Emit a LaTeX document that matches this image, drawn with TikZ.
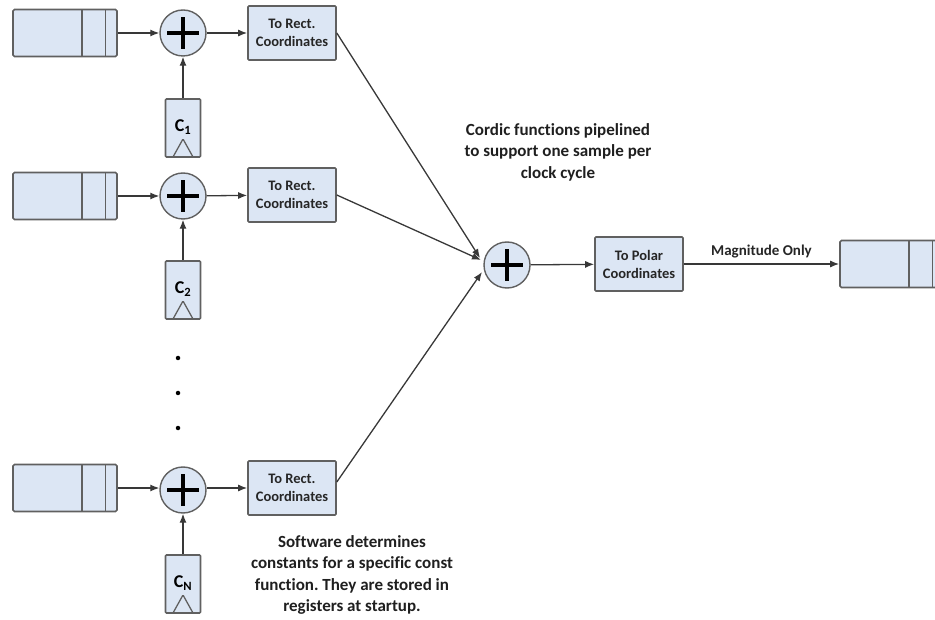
\documentclass[tikz,border=0pt]{standalone}
\usepackage{fontspec}
\setmainfont[Ligatures=NoCommon]{Carlito}
\usetikzlibrary{arrows.meta,calc}
\frenchspacing

\definecolor{boxfill}{HTML}{DCE6F4}
\definecolor{boxline}{HTML}{606060}
\definecolor{wire}{HTML}{383838}

\tikzset{
  x=1pt, y=-1pt,
  buffer/.style={draw=boxline, fill=boxfill, line width=1.6pt, rounded corners=1.5pt,
    minimum width=104pt, minimum height=47pt, inner sep=0pt,
    path picture={
      \draw[boxline, line width=1.6pt]
        ([xshift=-35pt]path picture bounding box.north east) -- ([xshift=-35pt]path picture bounding box.south east)
        ([xshift=-11.5pt]path picture bounding box.north east) -- ([xshift=-11.5pt]path picture bounding box.south east);
    }},
  adder/.style={circle, draw=boxline, fill=boxfill, line width=1.4pt,
    minimum size=46pt, inner sep=0pt,
    path picture={
      \draw[black, line width=4.5pt]
        ([xshift=-16pt]path picture bounding box.center) -- ([xshift=16pt]path picture bounding box.center)
        ([yshift=-16pt]path picture bounding box.center) -- ([yshift=16pt]path picture bounding box.center);
    }},
  convbox/.style={draw=boxline, fill=boxfill, line width=1.6pt, rounded corners=1pt,
    minimum width=88pt, minimum height=54pt, inner sep=1pt, align=center,
    font=\fontsize{14.5}{18}\selectfont\bfseries, text=black!85},
  register/.style={draw=boxline, fill=boxfill, line width=1.6pt, rounded corners=1pt,
    minimum width=35pt, minimum height=58pt, inner sep=0pt,
    font=\fontsize{18}{20}\selectfont\bfseries,
    path picture={
      \draw[boxline, line width=1.3pt]
        ([xshift=-10pt]path picture bounding box.south) -- ([yshift=18pt]path picture bounding box.south)
        -- ([xshift=10pt]path picture bounding box.south);
    }},
  arr/.style={draw=wire, line width=1.3pt, -{Latex[length=9pt,width=7pt]}},
  note/.style={align=center, font=\fontsize{17}{21.5}\selectfont\bfseries, text=black!88},
  dot/.style={circle, fill=black, inner sep=0pt, minimum size=4.5pt}
}

\begin{document}
\begin{tikzpicture}
  \useasboundingbox (0,0) rectangle (935,620);
  \clip (0,0) rectangle (935,620);

  % input channels: buffer -> adder -> rectangular conversion
  \node[buffer]  (b1) at (65,33)  {};
  \node[adder]   (a1) at (183,33) {};
  \node[convbox] (r1) at (292,33) {To Rect.\\Coordinates};
  \node[register] (c1) at (183,128) {\raisebox{4pt}{C\textsubscript{1}}};

  \node[buffer]  (b2) at (65,196)  {};
  \node[adder]   (a2) at (183,196) {};
  \node[convbox] (r2) at (292,195) {To Rect.\\Coordinates};
  \node[register] (c2) at (183,290) {\raisebox{4pt}{C\textsubscript{2}}};

  \node[dot] (d1) at (178,358) {};
  \node[dot] (d2) at (178,393) {};
  \node[dot] (d3) at (178,428) {};

  \node[buffer]  (b3) at (65,488)  {};
  \node[adder]   (a3) at (183,490) {};
  \node[convbox] (r3) at (292,488) {To Rect.\\Coordinates};
  \node[register] (c3) at (183,584) {\raisebox{4pt}{C\textsubscript{N}}};

  % summation and output stage
  \node[adder]   (sum)   at (507,265) {};
  \node[convbox] (polar) at (639,264) {To Polar\\Coordinates};
  \node[buffer]  (out)   at (892,264) {};

  \coordinate (j1) at (480,258);
  \coordinate (j2) at (481,260);
  \coordinate (j3) at (482,272);

  % connectors
  \draw[arr] (b1) -- (a1);
  \draw[arr] (a1) -- (r1);
  \draw[arr] (c1) -- (a1);
  \draw[arr] (b2) -- (a2);
  \draw[arr] (a2) -- (r2);
  \draw[arr] (c2) -- (a2);
  \draw[arr] (b3.east) -- (a3.west |- b3.east);
  \draw[arr] (a3.east |- r3.west) -- (r3.west);
  \draw[arr] (c3) -- (a3);

  \draw[arr] (r1.east) -- (j1);
  \draw[arr] (r2.east) -- (j2);
  \draw[arr] ([yshift=6pt]r3.east) -- (j3);

  \draw[arr] (sum) -- (polar);
  \draw[arr] (polar) -- node[above=2pt, font=\fontsize{15}{18}\selectfont\bfseries, text=black!85] {Magnitude Only} (out);

  % annotations
  \node[note] (cordic) at (558,152) {Cordic functions pipelined\\to support one sample per\\clock cycle};
  \node[note] (soft) at (352,575) {Software determines\\constants for a specific const\\function. They are stored in\\registers at startup.};
\end{tikzpicture}
\end{document}
